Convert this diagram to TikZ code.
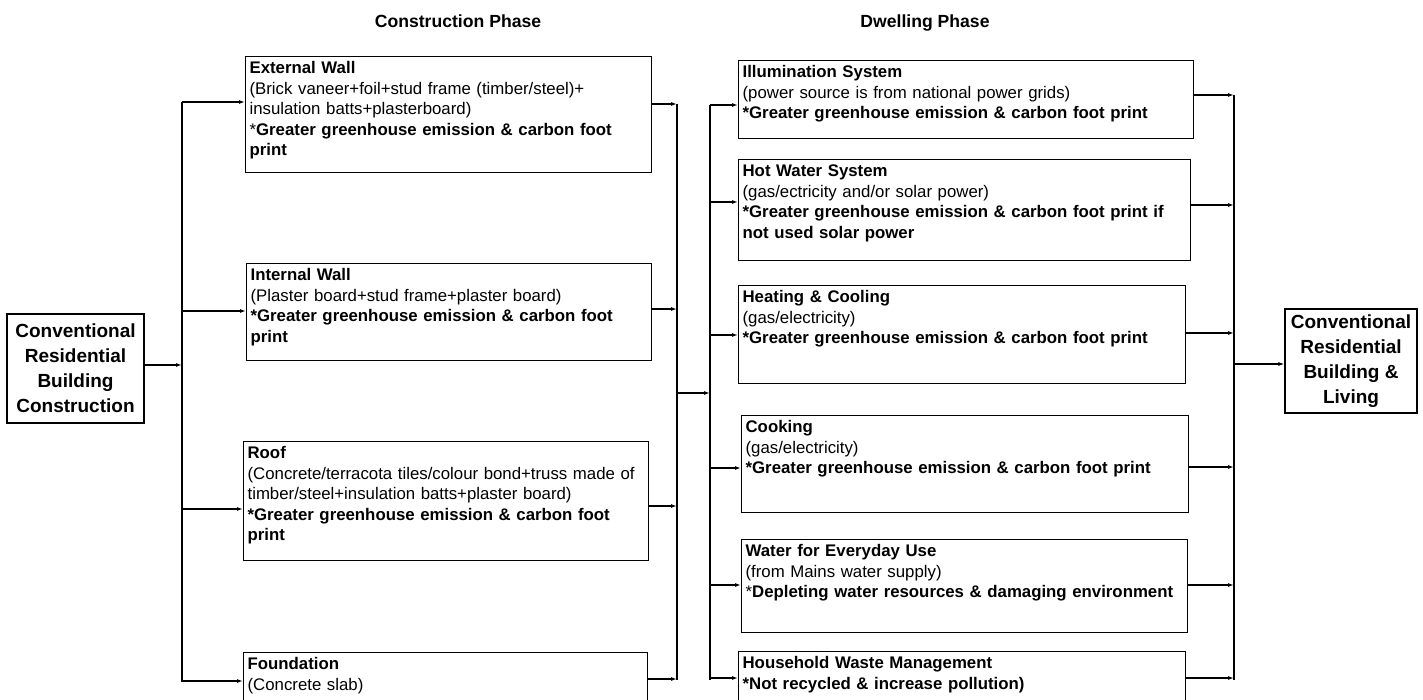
\documentclass[tikz,border=0pt]{standalone}
\usepackage{fontspec}
\setmainfont{Liberation Sans}
\usetikzlibrary{arrows.meta}

\begin{document}
\begin{tikzpicture}[x=1pt, y=-1pt,
  line width=1.2pt,
  >={Latex[length=6pt,width=4pt]},
  phase/.style={draw, anchor=north west, align=left, inner xsep=4pt, inner ysep=5pt,
    text height=12pt, font=\fontsize{16.8}{20.5}\selectfont},
  endbox/.style={draw, align=center, inner sep=3pt,
    font=\fontsize{19}{25}\selectfont\bfseries},
  head/.style={anchor=base, font=\fontsize{17.6}{20}\selectfont\bfseries},
  link/.style={->}]
  \useasboundingbox (0,0) rectangle (1423,700);

  \node[head] (conhead) at (458,28) {Construction Phase};
  \node[head] (dwhead) at (925,28) {Dwelling Phase};

  \node[endbox, minimum width=137pt, minimum height=109pt] (start) at (75.5,368.5)
    {Conventional\\Residential\\Building\\Construction};
  \node[endbox, minimum width=132pt, minimum height=104pt] (finish) at (1351,361)
    {Conventional\\Residential\\Building \&\\Living};

  \node[phase, text width=398pt, text depth=94pt] (ext) at (245,56)
    {\textbf{External Wall}\\(Brick vaneer+foil+stud frame (timber/steel)+\\insulation batts+plasterboard)\\{}*\textbf{Greater greenhouse emission \& carbon foot}\\\textbf{print}};
  \node[phase, text width=397pt, text depth=75pt] (int) at (246,263)
    {\textbf{Internal Wall}\\(Plaster board+stud frame+plaster board)\\\textbf{*Greater greenhouse emission \& carbon foot}\\\textbf{print}};
  \node[phase, text width=397pt, text depth=97pt] (roof) at (243,441)
    {\textbf{Roof}\\(Concrete/terracota tiles/colour bond+truss made of\\timber/steel+insulation batts+plaster board)\\\textbf{*Greater greenhouse emission \& carbon foot}\\\textbf{print}};
  \node[phase, text width=396pt, text depth=56pt] (found) at (243,652)
    {\textbf{Foundation}\\(Concrete slab)};

  \node[phase, text width=447pt, text depth=56pt] (illum) at (738,60)
    {\textbf{Illumination System}\\(power source is from national power grids)\\\textbf{*Greater greenhouse emission \& carbon foot print}};
  \node[phase, text width=444pt, text depth=79pt] (hot) at (738,159)
    {\textbf{Hot Water System}\\(gas/ectricity and/or solar power)\\\textbf{*Greater greenhouse emission \& carbon foot print if}\\\textbf{not used solar power}};
  \node[phase, text width=439pt, text depth=76pt] (heat) at (738,285)
    {\textbf{Heating \& Cooling}\\(gas/electricity)\\\textbf{*Greater greenhouse emission \& carbon foot print}};
  \node[phase, text width=439pt, text depth=75pt] (cook) at (741,415)
    {\textbf{Cooking}\\(gas/electricity)\\\textbf{*Greater greenhouse emission \& carbon foot print}};
  \node[phase, text width=438pt, text depth=71pt] (water) at (741,539)
    {\textbf{Water for Everyday Use}\\(from Mains water supply)\\{}*\textbf{Depleting water resources \& damaging environment}};
  \node[phase, text width=439pt, text depth=58pt] (waste) at (738,651)
    {\textbf{Household Waste Management}\\\textbf{*Not recycled \& increase pollution)}};

  \coordinate (lbus-top) at (182,102);
  \coordinate (lbus-bot) at (182,682);
  \coordinate (cbus-top) at (677,104);
  \coordinate (cbus-bot) at (677,680);
  \coordinate (dbus-top) at (710,105);
  \coordinate (dbus-bot) at (710,680);
  \coordinate (rbus-top) at (1234,95);
  \coordinate (rbus-bot) at (1234,680);
  \draw (lbus-top) -- (lbus-bot);
  \draw (cbus-top) -- (cbus-bot);
  \draw (dbus-top) -- (dbus-bot);
  \draw (rbus-top) -- (rbus-bot);

  \coordinate (start-in) at (182,365);
  \draw[link] (start-in -| start.east) -- (start-in);
  \foreach \n/\a/\b in {ext/102/104, int/311/309, roof/509/506, found/681/679} {
    \coordinate (\n-in) at (182,\a);
    \coordinate (\n-out) at (677,\b);
    \draw[link] (\n-in) -- (\n-in -| \n.west);
    \draw[link] (\n-out -| \n.east) -- (\n-out);
  }
  \coordinate (mid-from) at (677,393);
  \coordinate (mid-to) at (710,393);
  \draw[link] (mid-from) -- (mid-to);
  \foreach \n/\a/\b in {illum/105/95, hot/202/205, heat/335/333, cook/468/467, water/585/585, waste/678/678} {
    \coordinate (\n-in) at (710,\a);
    \coordinate (\n-out) at (1234,\b);
    \draw[link] (\n-in) -- (\n-in -| \n.west);
    \draw[link] (\n-out -| \n.east) -- (\n-out);
  }
  \coordinate (finish-in) at (1234,364);
  \draw[link] (finish-in) -- (finish-in -| finish.west);
\end{tikzpicture}
\end{document}
